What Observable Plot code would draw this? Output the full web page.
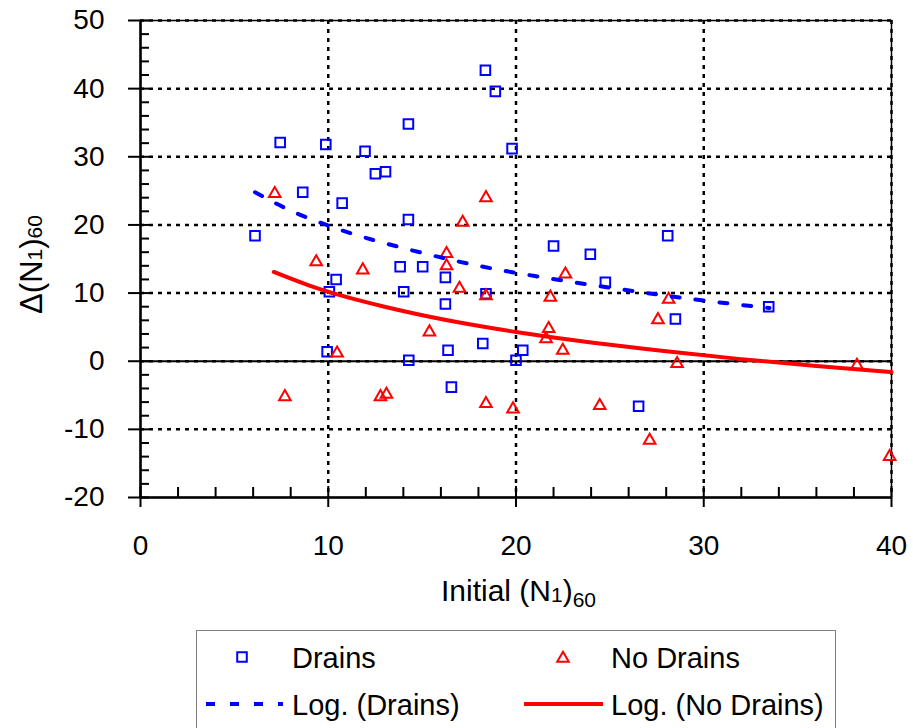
<!DOCTYPE html>
<html>
<head>
<meta charset="utf-8">
<script src="https://cdn.jsdelivr.net/npm/d3@7"></script>
<script src="https://cdn.jsdelivr.net/npm/@observablehq/plot@0.6"></script>
<style>
  html, body { margin: 0; padding: 0; background: #fff; }
  #wrap { position: relative; width: 913px; height: 728px; overflow: hidden; font-family: "Liberation Sans", Arial, sans-serif; }
  #legend { position: absolute; left: 196px; top: 630px; width: 640px; height: 110px; box-sizing: border-box; border: 1.5px solid #7f7f7f; background: #fff; }
</style>
</head>
<body>
<div id="wrap">
  <div id="chart"></div>
  <div id="legend"></div>
</div>
<script>
// ---- data ----
const drainsX = [6.1, 7.44, 8.64, 9.87, 9.94, 10.06, 10.42, 10.74, 11.96, 12.51, 13.05, 13.83, 14.02, 14.27, 14.27, 14.29, 15.03, 16.24, 16.24, 16.38, 16.56, 18.23, 18.37, 18.4, 18.9, 19.79, 20.0, 20.36, 22.0, 23.96, 24.76, 26.53, 28.08, 28.49, 33.46];
const drainsY = [18.4, 32.1, 24.8, 31.8, 1.4, 10.2, 12.0, 23.2, 30.8, 27.5, 27.8, 13.85, 10.2, 34.8, 20.8, 0.15, 13.85, 12.3, 8.4, 1.6, -3.8, 2.6, 42.7, 9.9, 39.6, 31.2, 0.15, 1.6, 16.9, 15.7, 11.6, -6.6, 18.4, 6.2, 8.0];

const noDrainsX = [7.15, 7.69, 9.36, 10.47, 11.84, 12.78, 13.1, 15.39, 16.3, 16.3, 16.99, 17.16, 18.4, 18.4, 18.4, 19.84, 21.6, 21.74, 21.83, 22.49, 22.63, 24.46, 27.12, 27.56, 28.13, 28.58, 38.16, 39.9];
const noDrainsY = [24.8, -5.0, 14.8, 1.4, 13.6, -5.0, -4.65, 4.5, 16.0, 14.2, 10.9, 20.6, 24.2, 9.8, -6.0, -6.8, 3.5, 5.0, 9.6, 1.8, 13.0, -6.3, -11.4, 6.3, 9.3, -0.15, -0.4, -13.8];

// logarithmic trendlines, values
const drainsTrendX = [6.1, 8, 10, 12, 15, 18, 21, 24, 27, 30, 33.5];
const drainsTrendY = [24.8, 22.1, 19.9, 18.1, 15.9, 14.0, 12.5, 11.2, 10.0, 8.9, 7.8];
const noDrainsTrendX = [7.1, 9, 11, 13, 16, 20, 24, 28, 32, 36, 40];
const noDrainsTrendY = [13.1, 11.1, 9.4, 8.0, 6.2, 4.3, 2.75, 1.45, 0.3, -0.7, -1.6];

// axes
const xTicks = [0, 10, 20, 30, 40];
const xMinorTicks = [2, 4, 6, 8, 12, 14, 16, 18, 22, 24, 26, 28, 32, 34, 36, 38];
const yTicks = [-20, -10, 0, 10, 20, 30, 40, 50];
const yMinorTicks = [-18, -16, -14, -12, -8, -6, -4, -2, 2, 4, 6, 8, 12, 14, 16, 18, 22, 24, 26, 28, 32, 34, 36, 38, 42, 44, 46, 48];
const xGrid = [10, 20, 30, 40];
const yGrid = [-10, 0, 10, 20, 30, 40, 50];

const legendLabels = ["Drains", "No Drains", "Log. (Drains)", "Log. (No Drains)"];

// ---- tables ----
const drains = drainsX.map((x, i) => ({x, y: drainsY[i]}));
const noDrains = noDrainsX.map((x, i) => ({x, y: noDrainsY[i]}));
const drainsTrend = drainsTrendX.map((x, i) => ({x, y: drainsTrendY[i]}));
const noDrainsTrend = noDrainsTrendX.map((x, i) => ({x, y: noDrainsTrendY[i]}));

const W = 913, H = 615, mL = 140, mR = 22, mT = 20, mB = 118;
const plotW = W - mL - mR, plotH = H - mT - mB;
const BLUE = "#0000ff", RED = "#ff0000";

const chart = Plot.plot({
  width: W, height: H,
  marginLeft: mL, marginRight: mR, marginTop: mT, marginBottom: mB,
  style: {fontFamily: "'Liberation Sans', Arial, sans-serif", background: "#fff", color: "#000"},
  x: {domain: [0, 40]},
  y: {domain: [-20, 50]},
  marks: [
    // dotted grid
    Plot.ruleY(yGrid, {stroke: "#000", strokeWidth: 2.5, strokeDasharray: "4,5"}),
    Plot.ruleX(xGrid, {stroke: "#000", strokeWidth: 2.5, strokeDasharray: "4,5"}),
    Plot.frame({stroke: "#000", strokeWidth: 1.5}),
    Plot.ruleY([0], {stroke: "#000", strokeWidth: 2}),
    // axes lines
    Plot.ruleX([0], {stroke: "#000", strokeWidth: 2.5}),
    Plot.ruleY([-20], {stroke: "#000", strokeWidth: 2.5}),
    // ticks
    Plot.tickY(yMinorTicks, {y: d => d, stroke: "#000", strokeWidth: 2, insetRight: plotW - 9}),
    Plot.tickY(yTicks, {y: d => d, stroke: "#000", strokeWidth: 2, insetRight: plotW - 21, dx: -12}),
    Plot.tickX(xMinorTicks, {x: d => d, stroke: "#000", strokeWidth: 2, insetTop: plotH - 10}),
    Plot.tickX(xTicks, {x: d => d, stroke: "#000", strokeWidth: 2, insetTop: plotH - 21, dy: 10}),
    // tick labels
    Plot.axisY({ticks: yTicks, tickSize: 0, tickPadding: 36, fontSize: 28, tickFormat: d => String(d), label: null}),
    Plot.axisX({ticks: xTicks, tickSize: 0, tickPadding: 38, fontSize: 28, tickFormat: d => String(d), label: null}),
    // data
    Plot.dot(drains, {x: "x", y: "y", symbol: "square", r: 5.4, stroke: BLUE, strokeWidth: 2, fill: "none"}),
    Plot.dot(noDrains, {x: "x", y: "y", symbol: "triangle", r: 4.3, stroke: RED, strokeWidth: 2, fill: "none", dy: 1.5}),
    Plot.line(noDrainsTrend, {x: "x", y: "y", stroke: RED, strokeWidth: 4, curve: "natural"}),
    Plot.line(drainsTrend, {x: "x", y: "y", stroke: BLUE, strokeWidth: 4, strokeDasharray: "8,16", curve: "natural"})
  ]
});
document.getElementById("chart").appendChild(chart);

// axis titles with subscripts
const svg = d3.select(chart);
const xt = svg.append("text")
  .attr("x", mL + plotW / 2 + 3).attr("y", 601)
  .attr("text-anchor", "middle")
  .attr("font-size", 30).attr("fill", "#000")
  .style("font-family", "'Liberation Sans', Arial, sans-serif");
xt.append("tspan").text("Initial (N");
xt.append("tspan").attr("font-size", 21).attr("dy", 1).text("1");
xt.append("tspan").attr("dy", -1).text(")");
xt.append("tspan").attr("font-size", 21).attr("dy", 6).text("60");

const yt = svg.append("text")
  .attr("transform", `translate(42,${mT + plotH / 2 + 6}) rotate(-90)`)
  .attr("text-anchor", "middle")
  .attr("font-size", 31).attr("fill", "#000")
  .style("font-family", "'Liberation Sans', Arial, sans-serif");
yt.append("tspan").text("Δ(N");
yt.append("tspan").attr("font-size", 21).text("1");
yt.append("tspan").text(")");
yt.append("tspan").attr("font-size", 21).text("60");

// legend
const lg = d3.select("#legend").append("svg").attr("width", 640).attr("height", 110)
  .style("position", "absolute").style("left", "-1.5px").style("top", "-1.5px");
const tfont = "'Liberation Sans', Arial, sans-serif";
const sq = d3.symbol(d3.symbolSquare, Math.PI * 5.4 * 5.4);
const tri = d3.symbol(d3.symbolTriangle, Math.PI * 4.3 * 4.3);
lg.append("path").attr("d", sq()).attr("transform", "translate(46,27)").attr("fill", "none").attr("stroke", BLUE).attr("stroke-width", 2);
lg.append("path").attr("d", tri()).attr("transform", "translate(367,28.5)").attr("fill", "none").attr("stroke", RED).attr("stroke-width", 2);
lg.append("line").attr("x1", 10).attr("x2", 87).attr("y1", 74).attr("y2", 74).attr("stroke", BLUE).attr("stroke-width", 4).attr("stroke-dasharray", "9,15");
lg.append("line").attr("x1", 328).attr("x2", 407).attr("y1", 74).attr("y2", 74).attr("stroke", RED).attr("stroke-width", 4);
const pos = [[96, 37.5], [415, 37.5], [96, 84.5], [415, 84.5]];
legendLabels.forEach((t, i) => {
  lg.append("text").attr("x", pos[i][0]).attr("y", pos[i][1]).attr("font-size", 29)
    .style("font-family", tfont).attr("fill", "#000").text(t);
});
</script>
</body>
</html>
